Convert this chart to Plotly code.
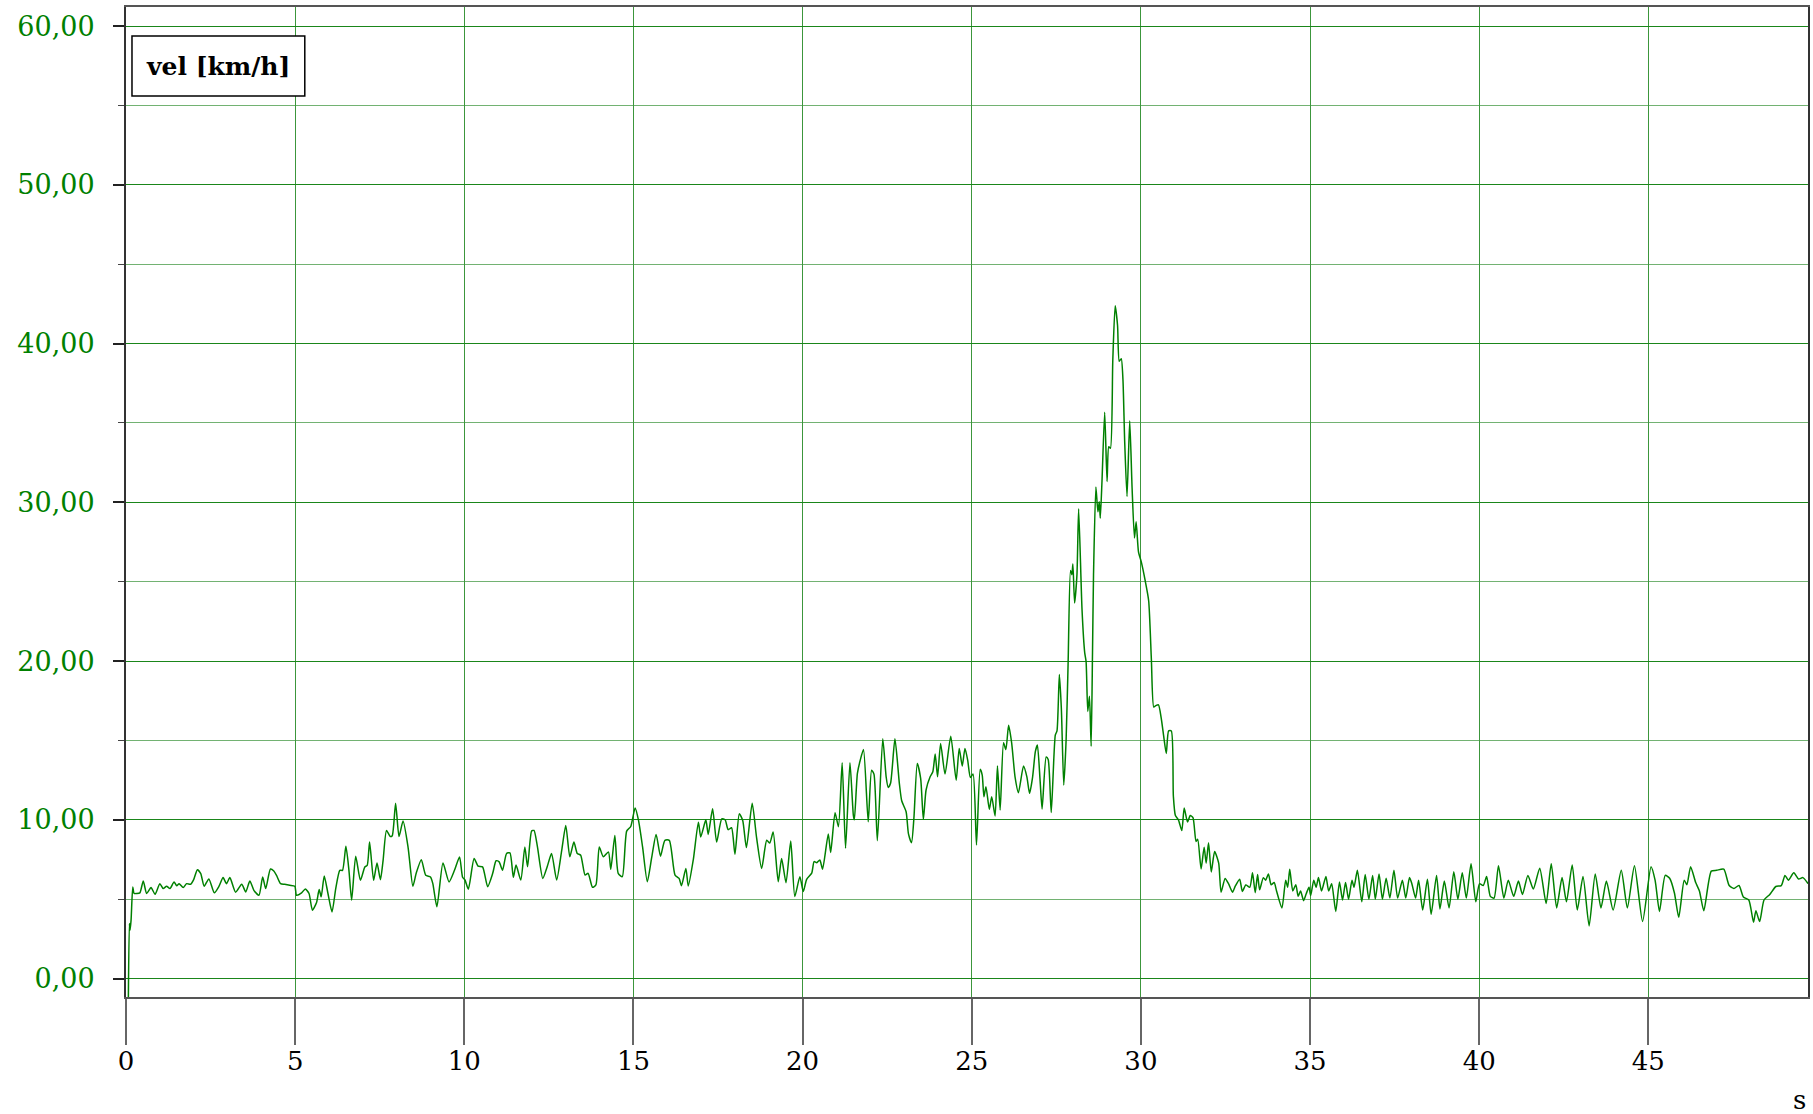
import plotly.graph_objects as go

# time in seconds
t_s = [
    0.07, 0.10, 0.12, 0.15, 0.20, 0.24, 0.31, 0.41, 0.51, 0.61, 0.74, 0.86, 1.00, 1.10, 1.20, 1.30,
    1.42, 1.50, 1.57, 1.69, 1.79, 1.91, 2.00, 2.11, 2.21, 2.31, 2.45, 2.61, 2.75, 2.87, 2.97, 3.07,
    3.24, 3.42, 3.54, 3.66, 3.78, 3.93, 4.04, 4.13, 4.27, 4.37, 4.45, 4.57, 4.69, 4.84, 4.99, 5.04,
    5.19, 5.30, 5.41, 5.51, 5.63, 5.71, 5.77, 5.86, 5.97, 6.09, 6.20, 6.32, 6.40, 6.50, 6.59, 6.67,
    6.79, 6.93, 7.06, 7.13, 7.20, 7.32, 7.42, 7.52, 7.60, 7.70, 7.81, 7.87, 7.97, 8.07, 8.19, 8.34,
    8.48, 8.58, 8.73, 8.86, 9.00, 9.07, 9.19, 9.37, 9.55, 9.71, 9.86,
    9.95, 10.02, 10.12, 10.29, 10.41, 10.54, 10.69, 10.84, 10.94, 11.03, 11.13, 11.25, 11.35, 11.45,
    11.53, 11.67, 11.79, 11.87, 11.99, 12.06, 12.16, 12.32, 12.45, 12.58, 12.73, 12.88, 13.00, 13.12,
    13.24, 13.34, 13.44, 13.57, 13.66, 13.79, 13.89, 13.99, 14.11, 14.26, 14.33, 14.45, 14.55, 14.67,
    14.80, 14.92, 15.05, 15.15, 15.27, 15.41, 15.54, 15.67, 15.80, 15.93, 16.06, 16.23, 16.35, 16.42,
    16.55, 16.62, 16.77, 16.92, 16.99, 17.14, 17.21, 17.34, 17.46, 17.61, 17.71, 17.80, 17.90, 18.00,
    18.13, 18.23, 18.34, 18.51, 18.64, 18.79, 18.94, 19.03, 19.13, 19.28, 19.38, 19.51, 19.65, 19.77,
    19.92, 20.02, 20.12,
    20.27, 20.34, 20.42, 20.51, 20.59, 20.76, 20.83, 20.96, 21.06, 21.17, 21.27, 21.40, 21.50, 21.53,
    21.62, 21.70, 21.80, 21.94, 22.04, 22.11, 22.21, 22.37, 22.47, 22.53, 22.60, 22.73, 22.86, 22.93,
    23.06, 23.13, 23.22, 23.29, 23.39, 23.49, 23.57, 23.65, 23.77, 23.85, 23.92, 23.99, 24.08, 24.21,
    24.38, 24.54, 24.63, 24.72, 24.80, 24.88, 24.96, 25.04, 25.14, 25.25, 25.31, 25.36, 25.42, 25.52,
    25.59, 25.69, 25.76, 25.84, 25.94, 26.01, 26.09, 26.18, 26.28, 26.38, 26.53, 26.63, 26.71, 26.80,
    26.88, 26.94, 27.02,
    27.08, 27.20, 27.26, 27.35, 27.47, 27.52, 27.59, 27.65, 27.72, 27.79, 27.85, 27.92, 27.96, 27.99,
    28.04, 28.11, 28.16, 28.26, 28.34, 28.38, 28.43, 28.48, 28.53, 28.57, 28.60, 28.67, 28.73, 28.77,
    28.80, 28.85, 28.93, 29.00, 29.05, 29.10, 29.17, 29.24, 29.31, 29.36, 29.42, 29.47, 29.52, 29.59,
    29.67, 29.74, 29.81, 29.86, 29.93, 30.01, 30.13, 30.23, 30.31, 30.38, 30.44, 30.52, 30.60, 30.67,
    30.75, 30.82, 30.90, 30.96, 31.02, 31.11, 31.21, 31.28, 31.38, 31.46, 31.54, 31.63, 31.68, 31.78,
    31.87, 31.93, 32.00, 32.08, 32.18, 32.30, 32.37, 32.49, 32.59, 32.71, 32.79, 32.92, 33.00, 33.10,
    33.22, 33.30, 33.38, 33.45, 33.51, 33.62, 33.69, 33.77, 33.85, 33.94, 34.01, 34.17, 34.28, 34.34,
    34.40, 34.49, 34.58, 34.65, 34.72, 34.81, 34.89, 34.97, 35.02, 35.11, 35.18, 35.25, 35.34, 35.47,
    35.55, 35.64, 35.76, 35.87, 35.96, 36.05, 36.14, 36.24, 36.30, 36.40, 36.53, 36.63, 36.74, 36.85,
    36.93, 37.04, 37.14, 37.25, 37.36, 37.48, 37.59, 37.73, 37.83, 37.94, 38.01, 38.12, 38.21, 38.33,
    38.47, 38.58, 38.74, 38.84, 38.97, 39.11, 39.25, 39.37, 39.50, 39.62, 39.76, 39.90, 40.01, 40.12,
    40.22, 40.33, 40.44, 40.57, 40.73, 40.86, 41.02, 41.16, 41.28, 41.44, 41.60, 41.79, 41.98, 42.13,
    42.29, 42.45, 42.58, 42.75, 42.90, 43.07, 43.25, 43.43, 43.60, 43.76, 43.96, 44.20, 44.38, 44.59,
    44.83, 45.08, 45.20, 45.33, 45.50, 45.63, 45.77, 45.90, 46.06, 46.14, 46.25, 46.40, 46.51, 46.64,
    46.86, 47.02, 47.23, 47.39, 47.53, 47.68, 47.81, 47.97, 48.11, 48.18, 48.29, 48.42, 48.59, 48.77,
    48.93, 49.04, 49.14, 49.30, 49.44, 49.57, 49.72,
]

# velocity in km/h
vel_kmh = [
    -1.2, 3.47, 3.05, 3.68, 5.77, 5.36, 5.36, 5.40, 6.15, 5.36, 5.73, 5.31, 5.98, 5.67, 5.82, 5.67,
    6.09, 5.84, 5.98, 5.73, 5.98, 5.94, 6.23, 6.86, 6.61, 5.82, 6.28, 5.40, 5.82, 6.36, 5.98, 6.36,
    5.44, 5.94, 5.46, 6.15, 5.56, 5.25, 6.40, 5.67, 6.90, 6.78, 6.50, 5.98, 5.94, 5.88, 5.82, 5.25,
    5.40, 5.65, 5.36, 4.31, 4.77, 5.61, 5.15, 6.46, 5.36, 4.20, 5.67, 6.82, 6.82, 8.33, 6.82, 4.94,
    7.70, 6.19, 7.03, 7.13, 8.60, 6.19, 7.28, 6.23, 7.45, 9.33, 8.95, 9.00, 11.05, 8.95, 9.92, 8.24,
    5.82, 6.65, 7.49, 6.51, 6.40, 5.98, 4.52, 7.28, 6.09, 6.82, 7.66,
    6.38, 6.21, 5.63, 7.56, 7.08, 7.04, 5.79, 6.63, 7.42, 7.35, 6.83, 7.88, 7.92, 6.38,
    7.15, 6.21, 8.29, 7.04, 9.29, 9.33, 8.33, 6.31, 7.04, 7.88, 6.21, 8.08, 9.65, 7.67,
    8.60, 7.88, 7.77, 6.52, 6.63, 5.75, 5.90, 8.29, 7.67, 7.98, 6.88, 9.02, 6.63, 6.42,
    9.29, 9.58, 10.75, 9.96, 8.29, 6.10, 7.63, 9.08, 7.71, 8.71, 8.71, 6.52, 6.31, 5.85,
    6.94, 5.83, 7.50, 9.85, 8.92, 10.00, 9.08, 10.69, 8.60, 10.06, 10.00, 9.38, 9.50, 7.83,
    10.38, 9.96, 8.25, 11.04, 8.88, 6.94, 8.71, 8.54, 9.23, 6.10, 7.56, 6.04, 8.67, 5.17,
    6.42, 5.48, 6.25,
    6.64, 7.37, 7.30, 7.47, 6.89, 9.11, 7.94, 10.45, 9.57, 13.60, 8.21, 13.60, 10.30, 10.00,
    12.92, 13.72, 14.43, 9.88, 13.13, 12.88, 8.69, 15.10, 12.71, 12.04, 12.30, 15.10, 12.30, 11.20,
    10.51, 9.11, 8.56, 10.09, 13.55, 12.61, 10.03, 11.88, 12.71, 13.03, 14.14, 12.71, 14.81, 12.88,
    15.27, 12.50, 14.50, 13.39, 14.50, 13.76, 12.67, 12.88, 8.42, 13.18, 12.82, 11.46, 12.09, 10.66,
    11.46, 10.24, 13.39, 10.62, 14.85, 14.43, 15.96, 14.85, 12.71, 11.71, 13.39, 12.71, 11.67, 12.71,
    14.29, 14.71, 12.50,
    10.68, 13.96, 13.80, 10.46, 15.33, 15.60, 19.15, 16.97, 12.19, 15.05, 19.97, 25.71, 25.44, 26.12,
    23.66, 25.44, 29.59, 23.25, 20.52, 19.97, 16.83, 17.79, 14.64, 20.52, 25.44, 30.96, 29.40, 30.03,
    29.00, 31.31, 35.68, 31.31, 33.50, 33.40, 38.96, 42.38, 41.15, 38.88, 39.05, 37.73, 33.90, 30.36,
    35.14, 30.90, 27.76, 28.77, 26.86, 26.26, 25.03, 23.80, 20.11, 17.10, 17.19, 17.24, 16.42, 15.33,
    14.18, 15.60, 15.60, 11.50, 10.27, 10.00, 9.32, 10.74, 9.86, 10.27, 10.14, 8.63, 8.77, 6.91,
    8.28, 7.27, 8.55, 6.72, 8.00, 7.27, 5.44, 6.31, 5.98, 5.44, 5.82, 6.26, 5.49, 5.90,
    5.75, 6.66, 5.41, 6.55, 5.59, 6.36, 6.20, 6.59, 5.91, 6.05, 5.52, 4.45, 6.20, 5.75,
    6.89, 5.52, 5.91, 5.18, 5.52, 4.91, 5.36, 5.75, 5.23, 6.20, 5.75, 6.36, 5.52, 6.43,
    5.52, 5.98, 4.23, 6.09, 4.95, 6.05, 5.00, 6.20, 5.75, 6.82, 4.84, 6.55, 5.00, 6.50,
    5.00, 6.59, 5.00, 6.32, 5.07, 6.82, 5.07, 6.20, 5.07, 6.36, 5.98, 5.07, 6.20, 4.32,
    6.25, 4.05, 6.50, 4.39, 6.14, 4.45, 6.73, 5.00, 6.66, 5.07, 7.23, 4.84, 5.98, 5.86,
    6.43, 5.18, 5.07, 7.11, 5.07, 6.20, 5.18, 6.14, 5.30, 6.50, 5.64, 6.95, 4.73, 7.23,
    4.45, 6.36, 4.84, 7.16, 4.32, 6.43, 3.32, 6.59, 4.45, 6.14, 4.32, 6.82, 4.45, 7.11,
    3.59, 7.05, 6.20, 4.23, 6.50, 6.32, 5.41, 3.86, 6.20, 5.91, 7.05, 6.05, 5.52, 4.27,
    6.77, 6.82, 6.89, 5.86, 5.68, 5.86, 5.14, 4.95, 3.55, 4.27, 3.59, 4.95, 5.30, 5.80,
    5.86, 6.50, 6.20, 6.66, 6.27, 6.36, 5.98,
]

series_name = "vel [km/h]"
x_unit = "s"

GREEN = "#008000"
SERIF = "DejaVu Serif"

fig = go.Figure()
fig.add_trace(go.Scatter(
    x=t_s, y=vel_kmh, mode="lines", name=series_name,
    line=dict(color=GREEN, width=1.5, shape="spline", smoothing=0.6), hoverinfo="skip",
))

fig.update_layout(
    width=1813, height=1114,
    margin=dict(l=126, r=3, t=7, b=117),
    plot_bgcolor="white", paper_bgcolor="white",
    separators=",.",
    showlegend=False,
    font=dict(family=SERIF),
)

fig.update_xaxes(
    range=[0, 49.72],
    tickmode="linear", tick0=0, dtick=5,
    showgrid=True, gridcolor="#3c963c", gridwidth=1,
    ticks="outside", ticklen=46, tickcolor="#666666", tickwidth=2,
    showline=True, linecolor="#555555", linewidth=2, mirror=True,
    zeroline=False,
    ticklabelstandoff=-6,
    tickfont=dict(family=SERIF, size=26, color="black"),
)

fig.update_yaxes(
    range=[-1.16, 61.2],
    tickmode="linear", tick0=0, dtick=10,
    tickformat=".2f",
    showgrid=True, gridcolor="#1a861a", gridwidth=1,
    ticks="outside", ticklen=11, tickcolor="#222222", tickwidth=1.5,
    minor=dict(dtick=5, showgrid=True, gridcolor="#72b272", gridwidth=1,
               ticks="outside", ticklen=6, tickcolor="#444444", tickwidth=1),
    showline=True, linecolor="#333333", linewidth=2, mirror=True,
    zeroline=False,
    ticklabelstandoff=13,
    tickfont=dict(family=SERIF, size=27, color=GREEN),
)

# legend box
fig.add_shape(type="rect", xref="paper", yref="paper",
              x0=0.00356, x1=0.1063, y0=0.9101, y1=0.9707,
              line=dict(color="black", width=1.5), fillcolor="white", layer="above")
fig.add_annotation(xref="paper", yref="paper", x=0.0546, y=0.9404,
                   text="<b>" + series_name + "</b>", showarrow=False,
                   xanchor="center", yanchor="middle",
                   font=dict(family=SERIF, size=25, color="black"))

# x unit label
fig.add_annotation(xref="paper", yref="paper", x=0.9952, y=-0.104,
                   text=x_unit, showarrow=False, xanchor="center", yanchor="middle",
                   font=dict(family=SERIF, size=26, color="black"))

fig.write_html("out.html")
